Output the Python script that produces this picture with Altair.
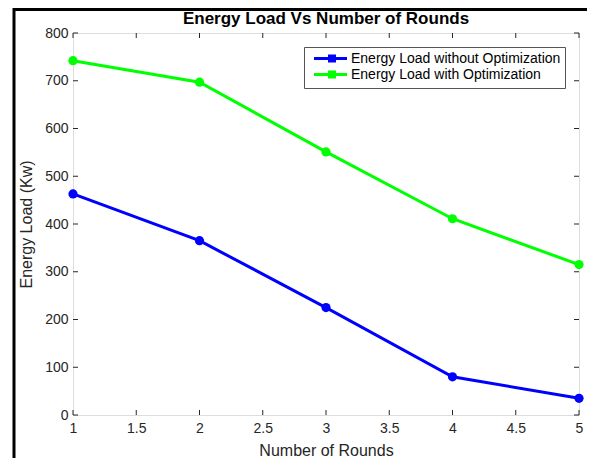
import altair as alt
import pandas as pd

rounds = [1, 2, 3, 4, 5]
load_without = [463, 365, 225, 80, 35]
load_with = [742, 697, 551, 411, 315]
series_names = ["Energy Load without Optimization", "Energy Load with Optimization"]
series_colors = ["#0000FF", "#00FF00"]
x_ticks = [1, 1.5, 2, 2.5, 3, 3.5, 4, 4.5, 5]
y_ticks = [0, 100, 200, 300, 400, 500, 600, 700, 800]

df = pd.DataFrame({
    "Rounds": rounds * 2,
    "Load": load_without + load_with,
    "Series": [series_names[0]] * len(rounds) + [series_names[1]] * len(rounds),
})
xt = pd.DataFrame({"v": x_ticks})
yt = pd.DataFrame({"v": y_ticks})

W, H = 506, 382
FONT = "Liberation Sans"
TXT = "#262626"

xs = alt.Scale(domain=[1, 5], nice=False, zero=False)
ys = alt.Scale(domain=[0, 800], nice=False)
cs = alt.Scale(domain=series_names, range=series_colors)

legend_symbol = "M-0.3,0H6.3M2.8,-0.5H3.8V0.5H2.8Z"

x_axis = alt.Axis(
    values=x_ticks, format="~g", title="Number of Rounds",
    labelFont=FONT, labelFontSize=14, labelColor=TXT, labelPadding=6,
    titleFont=FONT, titleFontSize=16, titleFontWeight="normal", titleColor=TXT,
    titlePadding=7, ticks=False, domain=False, grid=False, labelFlush=False)
y_axis = alt.Axis(
    values=y_ticks, title="Energy Load (Kw)",
    labelFont=FONT, labelFontSize=14, labelColor=TXT, labelPadding=5,
    titleFont=FONT, titleFontSize=16, titleFontWeight="normal", titleColor=TXT,
    titlePadding=10, ticks=False, domain=False, grid=False, labelFlush=False)

lines = alt.Chart(df).mark_line(strokeWidth=3).encode(
    x=alt.X("Rounds:Q", scale=xs, axis=x_axis),
    y=alt.Y("Load:Q", scale=ys, axis=y_axis),
    color=alt.Color("Series:N", scale=cs, sort=series_names, legend=alt.Legend(
        title=None, orient="none", legendX=231, legendY=14,
        strokeColor="#555555", fillColor="white", padding=4.5,
        labelFont=FONT, labelFontSize=14, labelColor="black", labelLimit=0,
        symbolType=legend_symbol, symbolSize=100, symbolStrokeWidth=3,
        labelOffset=28.5, rowPadding=-2)),
)

points = alt.Chart(df).mark_point(shape="circle", filled=True, size=85, opacity=1).encode(
    x=alt.X("Rounds:Q", scale=xs, axis=x_axis),
    y=alt.Y("Load:Q", scale=ys, axis=y_axis),
    color=alt.Color("Series:N", scale=cs, legend=None),
)

def rule(d):
    return alt.Chart(d).mark_rule(color=TXT, strokeWidth=1)

xtick_bottom = rule(xt).encode(
    x=alt.X("v:Q", scale=xs, axis=x_axis), y=alt.value(H), y2=alt.value(H - 5))
xtick_top = rule(xt).encode(
    x=alt.X("v:Q", scale=xs, axis=x_axis), y=alt.value(0), y2=alt.value(5))
ytick_left = rule(yt).encode(
    y=alt.Y("v:Q", scale=ys, axis=y_axis), x=alt.value(0), x2=alt.value(5))
ytick_right = rule(yt).encode(
    y=alt.Y("v:Q", scale=ys, axis=y_axis), x=alt.value(W), x2=alt.value(W - 5))

frame_df = pd.DataFrame({"a": [0]})
frame_top = alt.Chart(frame_df).mark_rule(color="black", strokeWidth=3).encode(
    x=alt.value(-59), x2=alt.value(W + 30), y=alt.value(-23.5))
frame_left = alt.Chart(frame_df).mark_rule(color="black", strokeWidth=3).encode(
    x=alt.value(-59), y=alt.value(-25), y2=alt.value(H + 60))

chart = alt.layer(
    lines, points, xtick_bottom, xtick_top, ytick_left, ytick_right,
    frame_top, frame_left,
).properties(
    width=W, height=H,
    title=alt.TitleParams("Energy Load Vs Number of Rounds", font=FONT, fontSize=17,
                          fontWeight="bold", color="black", offset=-21, anchor="middle",
                          frame="group"),
    autosize=alt.AutoSizeParams(type="none"),
    padding={"left": 65, "top": 25, "right": 8, "bottom": 43},
).configure_view(stroke=TXT, strokeWidth=1).configure(background="white")

chart.save("out.html", embed_options={"renderer": "svg", "actions": False})
